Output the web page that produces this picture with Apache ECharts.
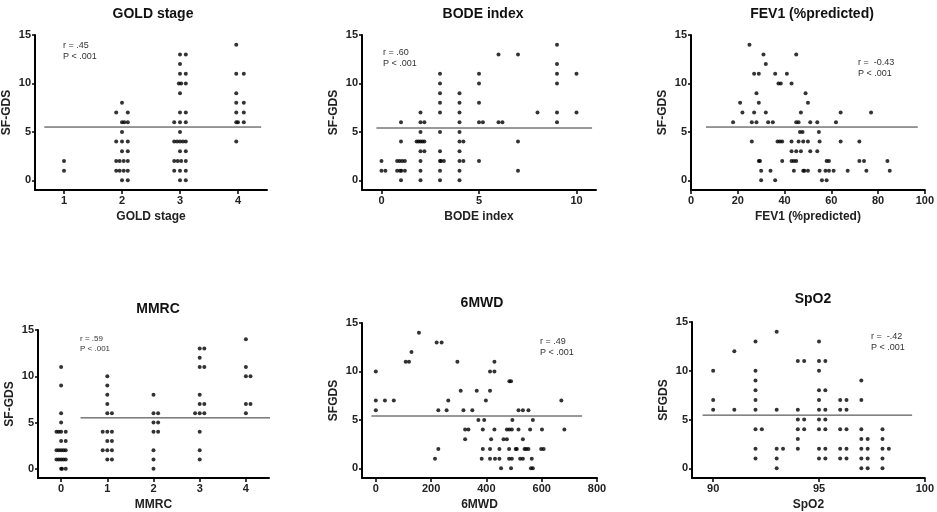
<!DOCTYPE html>
<html><head><meta charset="utf-8">
<script src="https://cdn.jsdelivr.net/npm/echarts@6/dist/echarts.min.js"></script>
<style>html,body{margin:0;padding:0;background:#fff}#c{width:937px;height:512px}</style>
</head><body><div id="c"></div>
<script>
// ---- data ----
const panelTitles = ['GOLD stage','BODE index','FEV1 (%predicted)','MMRC','6MWD','SpO2'];
const yNames = ['SF-GDS','SF-GDS','SF-GDS','SF-GDS','SFGDS','SFGDS'];
const stats = [['r = .45','P < .001'],['r = .60','P < .001'],['r =  -0.43','P < .001'],['r = .59','P < .001'],['r = .49','P < .001'],['r =  -.42','P < .001']];
const yTicks = [0,5,10,15];
const xTicks = [[1,2,3,4],[0,5,10],[0,20,40,60,80,100],[0,1,2,3,4],[0,200,400,600,800],[90,95,100]];
const xRanges = [[0.5,4.5],[-1,11],[0,100],[-0.5,4.5],[-50,800],[89,100]];
const refLineX = [[0.66,4.4],[-0.26,10.8],[6.4,97],[0.42,5.04],[-16,746],[89.5,99.4]];
const refLineY = [5.5,5.4,5.5,5.5,5.4,5.45];

const goldPoints = [[1,2],[1,1],
 [2,8],[1.9,7],[2.1,7],[2,6],[2.04,6],[2.1,6],[2,5],[1.9,4],[2,4],[2.1,4],[2,3],[2.1,3],
 [1.9,2],[1.96,2],[2.03,2],[2.1,2],[1.9,1],[1.96,1],[2.03,1],[2.1,1],[2,0],[2.1,0],
 [3,13],[3.1,13],[3,12],[3,11],[3.1,11],[2.98,10],[3.02,10],[3.1,10],[3,9],[3,7],[3.1,7],
 [2.9,6],[3,6],[3.1,6],[3,5],[2.9,4],[2.95,4],[3,4],[3.05,4],[3.1,4],[3,3],[3.1,3],
 [2.9,2],[2.96,2],[3.02,2],[3.1,2],[2.9,1],[3,1],[3.1,1],[3,0],[3.1,0],
 [3.97,14],[3.97,11],[4.1,11],[3.97,9],[3.97,8],[4.1,8],[3.97,7],[4.1,7],[3.97,6],[4,6],[4.1,6],[3.97,4]];
const bodePoints = [[0,2],[0,1],[0.2,1],
 [1,6],[1,4],[0.8,2],[0.93,2],[1.06,2],[1.2,2],[0.8,1],[0.95,1],[1.02,1],[1.2,1],[1,0],
 [2,7],[2,6],[2.2,6],[2,5],[1.8,4],[1.9,4],[2,4],[2.1,4],[2.2,4],[2,3],[2.2,3],[2,2],[2,1],[2,0],
 [3,11],[3,10],[3,9],[3,8],[3,7],[3,5],[3,3],[3,2],[3.05,2],[3.2,2],[3,1],[3,0],
 [4,9],[4,8],[4,7],[4,6],[4,5],[4,4],[4.2,4],[4,3],[4,2],[4.2,2],[4,1],[4,0],
 [5,11],[5,10],[5,8],[5,6],[5.2,6],[5,2],[6,13],[6,6],[6.2,6],[7,13],[7,4],[7,1],[8,7],
 [9,14],[9,12],[9,11],[9,10],[9,7],[9,6],[10,11],[10,7]];
const fevPoints = [[25,14],[31,13],[45,13],[32,12],[27,11],[29,11],[36,11],[41,11],[37.4,10],[38.4,10],[43,10],
 [28,9],[49,9],[21,8],[29,8],[50,8],[22,7],[27,7],[32,7],[47,7],[64,7],[77,7],
 [18,6],[26,6],[28,6],[33,6],[35,6],[45,6],[46,6],[51,6],[54,6],[62,6],
 [46.6,5],[47.7,5],[54.7,5],
 [26,4],[37,4],[38,4],[39,4],[43,4],[46,4],[48,4],[50,4],[55,4],[64,4],[72,4],
 [43,3],[45,3],[47,3],[51,3],[54,3],
 [29,2],[29.5,2],[39,2],[43,2],[44,2],[45,2],[58,2],[59,2],[72,2],[74,2],[84,2],
 [30,1],[34,1],[44,1],[48,1],[48.5,1],[50,1],[55,1],[57.5,1],[59,1],[61,1],[67,1],[75,1],[85,1],
 [30,0],[36,0],[56,0],[58,0]];
const mmrcPoints = [[0,11],[0,9],[0,6],[0,5],[-0.1,4],[-0.05,4],[0,4],[0.1,4],[0,3],[0.1,3],
 [-0.1,2],[-0.05,2],[0,2],[0.05,2],[0.1,2],[-0.1,1],[-0.05,1],[0,1],[0.05,1],[0.1,1],[0,0],[0.02,0],[0.1,0],
 [1,10],[1,9],[1,8],[1,7],[1,6],[1.1,6],[0.9,4],[1,4],[1.1,4],[1,3],[1.1,3],[0.9,2],[1,2],[1.1,2],[1,1],[1.1,1],
 [2,8],[2,6],[2.1,6],[2,5],[2.1,5],[2,4],[2.1,4],[2,2],[2,1],[2,0],
 [3,13],[3.1,13],[3,12],[3,11],[3.1,11],[3,8],[3,7],[3.1,7],[2.9,6],[3,6],[3.1,6],[3,4],[3,2],[3,1],
 [4,14],[4,11],[4,10],[4.1,10],[4,7],[4.1,7],[4,6]];
const mwdPoints = [[156,14],[129,12],[108,11],[120,11],[0,10],[220,13],[238,13],[295,11],[429,11],
 [413,10],[429,10],[483,9],[489,9],[307,8],[365,8],[413,8],[0,7],[33,7],[65,7],[262,7],[398,7],[671,7],
 [0,6],[226,6],[256,6],[317,6],[349,6],[516,6],[532,6],[552,6],
 [371,5],[392,5],[494,5],[568,5],
 [323,4],[335,4],[387,4],[429,4],[474,4],[483,4],[492,4],[516,4],[558,4],[601,4],[682,4],
 [323,3],[417,3],[462,3],[474,3],[532,3],
 [226,2],[387,2],[413,2],[447,2],[482,2],[506,2],[510,2],[538,2],[544,2],[552,2],[598,2],[607,2],
 [214,1],[383,1],[413,1],[431,1],[447,1],[482,1],[492,1],[522,1],[532,1],[564,1],
 [453,0],[489,0],[561,0],[568,0]];
const spo2Points = [[90,10],[90,7],[90,6],[91,12],[91,6],
 [92,13],[92,10],[92,9],[92,8],[92,7],[92,6],[92,4],[92.3,4],[92,2],[92,1],
 [93,14],[93,6],[93,2],[93.3,2],[93,1],[93,0],
 [94,11],[94.3,11],[94,6],[94,5],[94.3,5],[94,4],[94.3,4],[94,3],[94,2],
 [95,13],[95,11],[95.3,11],[95,10],[95,8],[95.3,8],[95,7],[95,6],[95.3,6],[95,5],[95.3,5],[95,4],[95.3,4],[95,2],[95.3,2],[95,1],[95.3,1],
 [96,7],[96.3,7],[96,6],[96.3,6],[96,4],[96.3,4],[96,2],[96.3,2],[96,1],[96.3,1],
 [97,9],[97,7],[97,4],[97,3],[97.3,3],[97,2],[97.3,2],[97,1],[97.3,1],[97,0],[97.3,0],
 [98,4],[98,3],[98,2],[98.3,2],[98,1],[98,0]];
const allPoints = [goldPoints,bodePoints,fevPoints,mmrcPoints,mwdPoints,spo2Points];

// ---- layout ----
const grids = [
 {left:33,top:35,width:234,height:155},
 {left:362,top:35,width:234,height:155},
 {left:691,top:35,width:236,height:155},
 {left:38,top:330,width:231,height:153},
 {left:362,top:323,width:235,height:155},
 {left:692,top:322,width:234,height:156}];
const titlePos = [[148,2],[478,2],[807,2],[153,297],[477,291],[808,287]];
const statPos = [[63,40],[383,47],[858,57],[80,334],[540,336],[871,331]];
const statSize = [9,9,9,8,9,9];

const font = 'Liberation Sans, Arial, sans-serif';
const chart = echarts.init(document.getElementById('c'));
const xAxis = [], yAxis = [], series = [], title = [], graphic = [];
for (let i = 0; i < 6; i++) {
  xAxis.push({type:'value', gridIndex:i, min:xRanges[i][0], max:xRanges[i][1],
    name:panelTitles[i], nameLocation:'middle', nameGap:21,
    nameTextStyle:{fontFamily:font,fontWeight:'bold',fontSize:12,color:'#222'},
    axisLine:{show:true,onZero:false,lineStyle:{color:'#000',width:2}},
    axisTick:{show:true,length:4,lineStyle:{color:'#000',width:1.5},customValues:xTicks[i]},
    axisLabel:{fontFamily:font,fontWeight:'bold',fontSize:11,color:'#222',margin:5,customValues:xTicks[i]},
    splitLine:{show:false}});
  yAxis.push({type:'value', gridIndex:i, min:-1, max:15,
    name:yNames[i], nameLocation:'middle', nameGap:22,
    nameTextStyle:{fontFamily:font,fontWeight:'bold',fontSize:12,color:'#222'},
    axisLine:{show:true,onZero:false,lineStyle:{color:'#000',width:2}},
    axisTick:{show:true,length:3,lineStyle:{color:'#000',width:1.5},customValues:yTicks},
    axisLabel:{fontFamily:font,fontWeight:'bold',fontSize:11,color:'#222',margin:4,customValues:yTicks},
    splitLine:{show:false}});
  series.push({type:'scatter', xAxisIndex:i, yAxisIndex:i, data:allPoints[i], symbolSize:4,
    itemStyle:{color:'#000'}, clip:false, silent:true});
  series.push({type:'line', xAxisIndex:i, yAxisIndex:i,
    data:[[refLineX[i][0],refLineY[i]],[refLineX[i][1],refLineY[i]]], symbol:'none',
    lineStyle:{color:'#333',width:1}, clip:false, silent:true});
  title.push({text:panelTitles[i], left:titlePos[i][0], top:titlePos[i][1], textAlign:'center',
    textStyle:{fontFamily:font,fontWeight:'bold',fontSize:14,color:'#111'}});
  graphic.push({type:'text', left:statPos[i][0], top:statPos[i][1],
    style:{text:stats[i].join('\n'), font:statSize[i]+'px '+font, fill:'#333', lineHeight:statSize[i]+2}});
}
chart.setOption({animation:false, backgroundColor:'#fff', grid:grids, xAxis, yAxis, series, title, graphic});
</script></body></html>
